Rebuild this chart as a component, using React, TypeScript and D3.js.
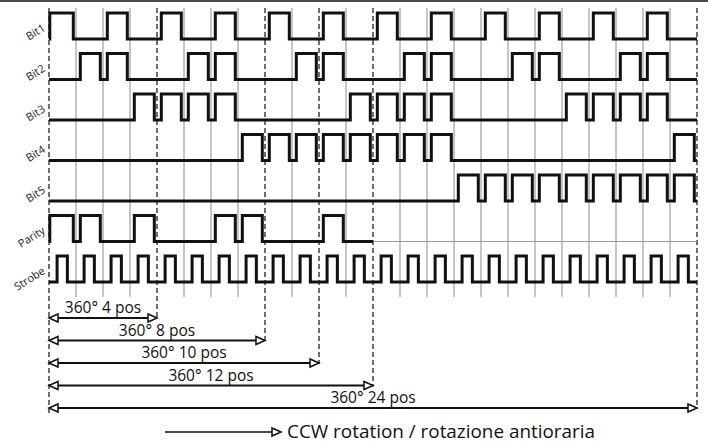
import React from 'react';
import * as d3 from 'd3';

// one entry per encoder position (24 positions over 360°)
const rowLabels = ['Bit1', 'Bit2', 'Bit3', 'Bit4', 'Bit5', 'Parity', 'Strobe'];

const bit1 = [1, 0, 1, 0, 1, 0, 1, 0, 1, 0, 1, 0, 1, 0, 1, 0, 1, 0, 1, 0, 1, 0, 1, 0];
const bit2 = [0, 1, 1, 0, 0, 1, 1, 0, 0, 1, 1, 0, 0, 1, 1, 0, 0, 1, 1, 0, 0, 1, 1, 0];
const bit3 = [0, 0, 0, 1, 1, 1, 1, 0, 0, 0, 0, 1, 1, 1, 1, 0, 0, 0, 0, 1, 1, 1, 1, 0];
const bit4 = [0, 0, 0, 0, 0, 0, 0, 1, 1, 1, 1, 1, 1, 1, 1, 0, 0, 0, 0, 0, 0, 0, 0, 1];
const bit5 = [0, 0, 0, 0, 0, 0, 0, 0, 0, 0, 0, 0, 0, 0, 0, 1, 1, 1, 1, 1, 1, 1, 1, 1];
const parity = [1, 1, 0, 1, 0, 0, 1, 1, 0, 0, 1, 0]; // only defined over 12 pos
const strobe = [1, 1, 1, 1, 1, 1, 1, 1, 1, 1, 1, 1, 1, 1, 1, 1, 1, 1, 1, 1, 1, 1, 1, 1];

const signals = [bit1, bit2, bit3, bit4, bit5, parity, strobe];

const TOTAL = 24;
const spans = [4, 8, 10, 12, 24];
const spanLabels = ['360° 4 pos', '360° 8 pos', '360° 10 pos', '360° 12 pos', '360° 24 pos'];
const caption = 'CCW rotation / rotazione antioraria';

const W = 708;
const H = 443;
const FONT = "'Open Sans', 'DejaVu Sans', sans-serif";

const x = d3.scaleLinear().domain([0, TOTAL]).range([49, 697]);
const rowY = d3.scaleLinear().domain([0, 6]).range([39, 282]); // low level of each row
const AMP = 26;
const arrowY = d3.scaleLinear().domain([0, 4]).range([318, 408]);

const wavePath = (states: number[], low: number, isStrobe: boolean) => {
  const a = isStrobe ? 0.3 : 0.16;
  const b = isStrobe ? 0.68 : 0.9;
  const pts: [number, number][] = [[0, 0]];
  states.forEach((s, p) => {
    if (!s) return;
    const r = p === 0 && !isStrobe ? 0.03 : a;
    pts.push([p + r, 0], [p + r, 1], [p + b, 1], [p + b, 0]);
  });
  pts.push([states.length, 0]);
  return d3
    .line<[number, number]>()
    .x((d) => x(d[0]))
    .y((d) => low - d[1] * AMP)(pts);
};

const dashedAt = [0, 4, 8, 10, 12, 24];

const App: React.FC = () => {
  const gridTop = 8;
  const gridBottom = rowY(6) + 15;

  const dashEnd = (p: number) => {
    const i = spans.indexOf(p);
    if (p === 0) return arrowY(4) + 6;
    return arrowY(i) + 1;
  };

  const head = (tipX: number, y: number, dir: number) =>
    `M${tipX},${y} L${tipX - dir * 9},${y - 4} L${tipX - dir * 9},${y + 4} Z`;

  return (
    <svg width={W} height={H} style={{ display: 'block', position: 'absolute', left: 0, top: 0, background: '#fff' }}>
      <line x1={0} x2={W} y1={1} y2={1} stroke="#111" strokeWidth={1.5} />

      {/* grid at each position */}
      {d3.range(1, TOTAL).filter((p) => !dashedAt.includes(p)).map((p) => (
        <line key={'g' + p} x1={x(p)} x2={x(p)} y1={gridTop} y2={gridBottom} stroke="#8c8c8c" strokeWidth={1} />
      ))}

      {dashedAt.map((p) => (
        <line
          key={'d' + p}
          x1={x(p)}
          x2={x(p)}
          y1={gridTop}
          y2={dashEnd(p)}
          stroke="#222"
          strokeWidth={1.3}
          strokeDasharray="5,3"
        />
      ))}

      {/* parity not defined past 12 pos */}
      <line x1={x(12)} x2={x(24)} y1={rowY(5)} y2={rowY(5)} stroke="#999" strokeWidth={1} />

      {signals.map((s, i) => (
        <path
          key={'s' + i}
          d={wavePath(s, rowY(i), i === 6) || ''}
          fill="none"
          stroke="#111"
          strokeWidth={3}
          strokeLinejoin="miter"
        />
      ))}

      {rowLabels.map((l, i) => (
        <text
          key={'l' + i}
          transform={`translate(46,${rowY(i) - 9}) rotate(-32)`}
          textAnchor="end"
          fontFamily={FONT}
          fontSize={11}
          fill="#222"
        >
          {l}
        </text>
      ))}

      {spans.map((p, i) => (
        <g key={'a' + i}>
          <line x1={x(0) + 2} x2={x(p) - 2} y1={arrowY(i)} y2={arrowY(i)} stroke="#111" strokeWidth={1.8} />
          <path d={head(x(0), arrowY(i), -1)} fill="#fff" stroke="#111" strokeWidth={1.5} />
          <path d={head(x(p), arrowY(i), 1)} fill="#fff" stroke="#111" strokeWidth={1.5} />
          <text
            x={(x(0) + x(p)) / 2}
            y={arrowY(i) - 5}
            textAnchor="middle"
            fontFamily={FONT}
            fontSize={15.5}
            fill="#111"
          >
            {spanLabels[i]}
          </text>
        </g>
      ))}

      <line x1={165} x2={272} y1={432} y2={432} stroke="#111" strokeWidth={1.5} />
      <path d={head(281, 432, 1)} fill="#fff" stroke="#111" strokeWidth={1.5} />
      <text x={287} y={438} fontFamily={FONT} fontSize={18.5} fill="#111" textLength={308} lengthAdjust="spacingAndGlyphs">
        {caption}
      </text>
    </svg>
  );
};

export default App;
